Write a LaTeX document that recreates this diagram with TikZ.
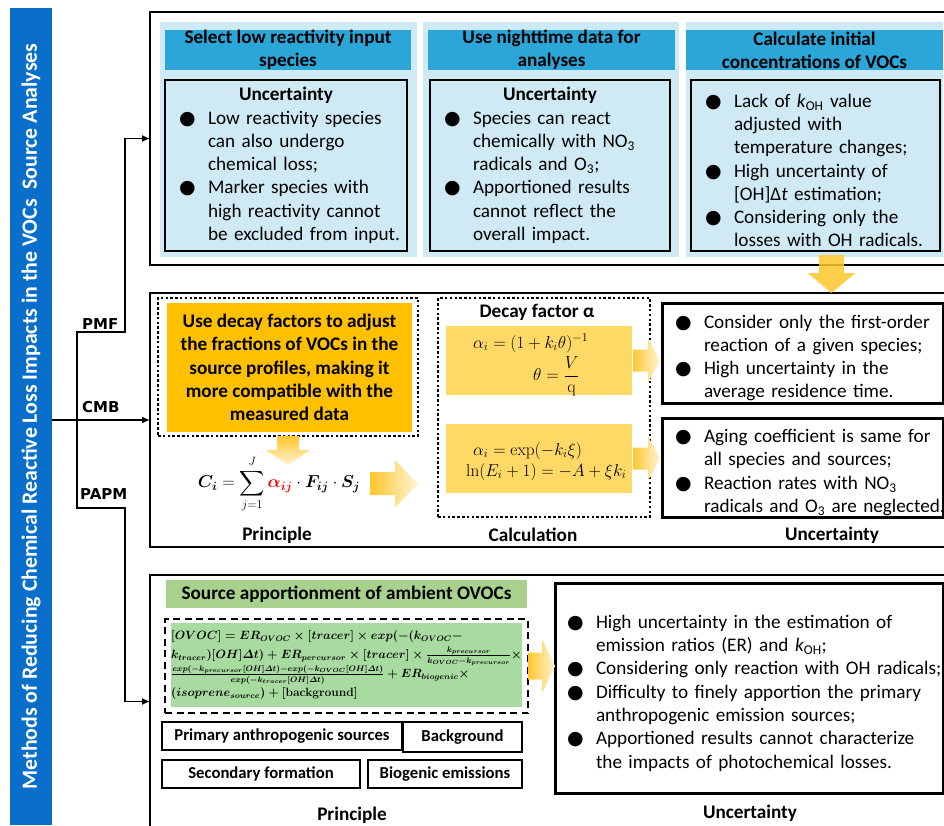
\documentclass[tikz,border=0pt]{standalone}
\usepackage{amsmath,amssymb}
\usepackage{bm}
\usepackage{graphicx}
\usepackage{xcolor}
\usepackage[no-math]{fontspec}
\setmainfont{Carlito}
\newfontfamily\labelfont{DejaVu Sans}
\usepackage{tikz}
\usetikzlibrary{positioning, arrows.meta, calc}

\definecolor{barblue}{HTML}{0A6FCB}
\definecolor{panelblue}{HTML}{CFEAF5}
\definecolor{headblue}{HTML}{2BA6D9}
\definecolor{gold}{HTML}{FFC000}
\definecolor{arrowgold}{HTML}{FFC72C}
\definecolor{palegold}{HTML}{FFD966}
\definecolor{headgreen}{HTML}{A9D18E}
\definecolor{formgreen}{HTML}{A8DBA0}
\definecolor{alphared}{HTML}{FF0000}

\newcommand{\bodysize}{\fontsize{19.2}{23.3}\selectfont}
\newcommand{\bul}{{\labelfont\fontsize{19}{19}\selectfont ●}}
\newcommand{\bitem}[1]{\par{\leftskip=40pt\relax\noindent\llap{\makebox[29pt][l]{\bul}}#1\par}}
% formulas
\newcommand{\cieq}{$\displaystyle \bm{C_i}=\sum_{j=1}^{J}{\color{alphared}\bm{\alpha_{ij}}}\cdot\bm{F_{ij}}\cdot\bm{S_j}$}
\newcommand{\dt}{[OH]\varDelta t}
\newcommand{\ovoceq}{%
  $[OVOC]=ER_{OVOC}\times[tracer]\times exp(-(k_{OVOC}-$\\
  $k_{tracer})\dt)+ER_{percursor}\times[tracer]\times\frac{k_{precursor}}{k_{OVOC}-k_{precursor}}\times$\\
  $\frac{exp(-k_{precursor}\dt)-exp(-k_{OVOC}\dt)}{exp(-k_{tracer}\dt)}+ER_{biogenic}\times$\\
  $(isoprene_{source})+[\mathbf{background}]$}

\tikzset{
  wh/.style 2 args={minimum width=#1pt, minimum height=#2pt},
  titlebar/.style={fill=barblue, text=white, anchor=north west, inner sep=0pt, outer sep=0pt,
    font=\fontsize{21.8}{21.8}\selectfont\bfseries},
  bigbox/.style={draw=black, line width=2.7pt, anchor=north west, inner sep=0pt, outer sep=0pt},
  panel/.style={fill=panelblue, anchor=north west, inner sep=0pt, outer sep=0pt},
  header/.style={fill=headblue, anchor=north west, inner sep=0pt, outer sep=0pt,
    align=center, font=\bodysize\bfseries},
  uncbox/.style={draw=black, line width=2.6pt, anchor=north west, inner xsep=3pt, inner ysep=0pt,
    outer sep=0pt, align=left, font=\bodysize},
  dotbox/.style={draw=black, line width=2.6pt, dash pattern=on 2.5pt off 2.3pt,
    anchor=north west, inner sep=0pt, outer sep=0pt},
  dashbox/.style={draw=black, line width=1.8pt, dash pattern=on 7pt off 4.5pt,
    anchor=north west, inner sep=0pt, outer sep=0pt},
  goldbox/.style={fill=gold, anchor=north west, inner sep=0pt, outer sep=0pt,
    align=center, font=\bodysize\bfseries},
  palebox/.style={fill=palegold, anchor=north west, inner sep=0pt, outer sep=0pt},
  greenbar/.style={fill=headgreen, anchor=north west, inner sep=0pt, outer sep=0pt,
    font=\bodysize\bfseries},
  formbox/.style={fill=formgreen, anchor=north west, inner sep=0pt, outer sep=0pt,
    align=left, font=\fontsize{12}{19}\selectfont\boldmath},
  srcbox/.style={draw=black, line width=1.2pt, anchor=north west, inner sep=0pt, outer sep=0pt,
    font=\fontsize{16.7}{20}\selectfont\bfseries},
  caption/.style={inner sep=0pt, font=\bodysize\bfseries},
  formula/.style={inner sep=0pt, font=\fontsize{16.5}{20}\selectfont},
  bigformula/.style={inner sep=0pt, font=\fontsize{17.5}{20}\selectfont},
  pathlabel/.style={anchor=south west, inner sep=0pt,
    font=\labelfont\bfseries\fontsize{15}{15}\selectfont},
  conn/.style={line width=1.4pt, -{Latex[length=8pt, width=7pt]}},
  goldsolid/.style={fill=arrowgold, fill opacity=0.85},
  faderight/.style={left color=arrowgold, right color=arrowgold!20},
  fadedown/.style={top color=arrowgold, bottom color=arrowgold!20}
}

\begin{document}
\begin{tikzpicture}[x=1pt, y=-1pt]
\useasboundingbox (0,0) rectangle (944,825);
\clip (0,0) rectangle (944,825);

% Title bar
\node (bar) [titlebar, wh={42}{817}] at (10,8)
  {\rotatebox{90}{Methods of Reducing Chemical Reactive Loss Impacts in the VOCs\ \ Source Analyses}};

% Method boxes
\node (topbox) [bigbox, wh={800}{253}] at (150,12) {};
\node (midbox) [bigbox, wh={800}{254}] at (150,293) {};
\node (botbox) [bigbox, wh={800}{253}] at (150,575) {};

% PMF
\node (pan1) [panel, wh={257}{235}] at (160,22) {};
\node (pan2) [panel, wh={256}{235}] at (423,22) {};
\node (pan3) [panel, wh={257}{235}] at (686,22) {};
\node (head1) [header, wh={246}{40}] at (165,30) {Select low reactivity input\\species};
\node (head2) [header, wh={247}{40}] at (428,30) {Use nighttime data for\\analyses};
\node (head3) [header, wh={257}{40}] at (686,30) {Calculate initial\\concentrations of VOCs};

\node (unc1) [uncbox, wh={242}{171}, text width=236pt] at (165,80) {
  {\centering\bfseries Uncertainty\par}
  \bitem{Low reactivity species\\can also undergo\\chemical loss;}
  \bitem{Marker species with\\high reactivity cannot\\be excluded from input.}};
\node (unc2) [uncbox, wh={240}{171}, text width=234pt] at (430,80) {
  {\centering\bfseries Uncertainty\par}
  \bitem{Species can react\\chemically with NO\textsubscript{3}\\radicals and O\textsubscript{3};}
  \bitem{Apportioned results\\cannot reflect the\\overall impact.}};
\node (unc3) [uncbox, wh={249}{171}, text width=243pt] at (691,80) {
  \bitem{Lack of \textit{k}\textsubscript{OH} value\\adjusted with\\temperature changes;}
  \bitem{High uncertainty of\\{[OH]}Δ\textit{t} estimation;}
  \bitem{Considering only the\\losses with OH radicals.}};

% CMB
\node (dots1) [dotbox, wh={260}{138}] at (158,298) {};
\node (decay) [goldbox, wh={245}{129}] at (167,303)
  {Use decay factors to adjust\\the fractions of VOCs in the\\source profiles, making it\\more compatible with the\\measured data};
\node (dots2) [dotbox, wh={212}{219}] at (438,298) {};
\node (decaytitle) [caption] at (537,312) {Decay factor α};
\node (rate1) [palebox, wh={186}{69}] at (446,326) {};
\node (rate2) [palebox, wh={186}{69}] at (446,424) {};

\node (ci) [bigformula] at (279,484) {\cieq};
\node (alpha1) [formula, anchor=base west] at (473,348) {$\alpha_i=(1+k_i\theta)^{-1}$};
\node (theta) [formula, anchor=west] at (533,376) {$\theta=\dfrac{V}{\mathrm{q}}$};
\node (alpha2) [formula, anchor=base west] at (473,455) {$\alpha_i=\exp(-k_i\xi)$};
\node (lnE) [formula, anchor=base west] at (466,476) {$\ln(E_i+1)=-A+\xi k_i$};

\node (unc4) [uncbox, line width=3pt, wh={281}{100}, text width=277pt, inner xsep=2pt] at (662,303) {
  \bitem{Consider only the first-order\\reaction of a given species;}
  \bitem{High uncertainty in the\\average residence time.}};
\node (unc5) [uncbox, line width=3pt, wh={281}{99}, text width=277pt, inner xsep=2pt] at (662,418) {
  \bitem{Aging coefficient is same for\\all species and sources;}
  \bitem{Reaction rates with NO\textsubscript{3}\\\mbox{radicals and O\textsubscript{3} are neglected.}}};

\node (prin1) [caption] at (277,535) {Principle};
\node (calc) [caption] at (533,535) {Calculation};
\node (unclab1) [caption] at (832,535) {Uncertainty};

% PAPM
\node (greenhead) [greenbar, wh={361}{28}] at (166,580) {Source apportionment of ambient OVOCs};
\node (dashes) [dashbox, wh={363}{94}] at (165,619) {};
\node (ovoc) [formbox, wh={351}{84}] at (171,623) {\ovoceq};

\node (src1) [srcbox, wh={240}{28}] at (162,722) {Primary anthropogenic sources};
\node (src2) [srcbox, wh={119}{30}] at (403,722) {Background};
\node (src3) [srcbox, wh={198}{28}] at (162,760) {Secondary formation};
\node (src4) [srcbox, wh={154}{28}] at (368,760) {Biogenic emissions};

\node (unc6) [uncbox, line width=3pt, wh={388}{210}, text width=386pt, inner xsep=1pt] at (555,583) {
  \bitem{High uncertainty in the estimation of\\emission ratios (ER) and \textit{k}\textsubscript{OH};}
  \bitem{\mbox{Considering only reaction with OH radicals;}}
  \bitem{Difficulty to finely apportion the primary\\anthropogenic emission sources;}
  \bitem{Apportioned results cannot characterize\\the impacts of photochemical losses.}};

\node (prin2) [caption] at (352,815) {Principle};
\node (unclab2) [caption] at (750,813) {Uncertainty};

% Arrows
\coordinate (split) at (77,420);
\coordinate (pmfjog) at (125,332);
\coordinate (papmjog) at (125,508);
\draw [conn] (bar.east |- split) -- (midbox.west);
\draw [conn] (split) |- (pmfjog) |- (topbox.west);
\draw [conn] (split) |- (papmjog) |- (botbox.west);

\node (pmf) [pathlabel] at (82,330) {PMF};
\node (cmb) [pathlabel] at (82,413) {CMB};
\node (papm) [pathlabel] at (80,500) {PAPM};

% Block arrows
\fill [goldsolid] (831.5,255) ++(-12.5,0) -- ++(25,0) -- ++(0,18) -- ++(11.5,0) -- ++(-24,20) -- ++(-24,-20) -- ++(11.5,0) -- cycle;
\shade [fadedown] (dots1.south) ++(-11,0) -- ++(22,0) -- ++(0,14) -- ++(11,0) -- ++(-22,15) -- ++(-22,-15) -- ++(11,0) -- cycle;
\shade [faderight] (370,472) -- ++(25,0) -- ++(0,-12) -- ++(23,24) -- ++(-23,23) -- ++(0,-12) -- ++(-25,0) -- cycle;
\shade [faderight] (rate1.east) ++(1,-11) -- ++(15,0) -- ++(0,-11) -- ++(12,22) -- ++(-12,22) -- ++(0,-11) -- ++(-15,0) -- cycle;
\shade [faderight] (rate2.east) ++(1,-11) -- ++(15,0) -- ++(0,-11) -- ++(12,22) -- ++(-12,22) -- ++(0,-11) -- ++(-15,0) -- cycle;
\shade [faderight] (dashes.east) ++(0,-13.5) -- ++(14,0) -- ++(0,-13.5) -- ++(13,27) -- ++(-13,27) -- ++(0,-13.5) -- ++(-14,0) -- cycle;

\end{tikzpicture}
\end{document}
